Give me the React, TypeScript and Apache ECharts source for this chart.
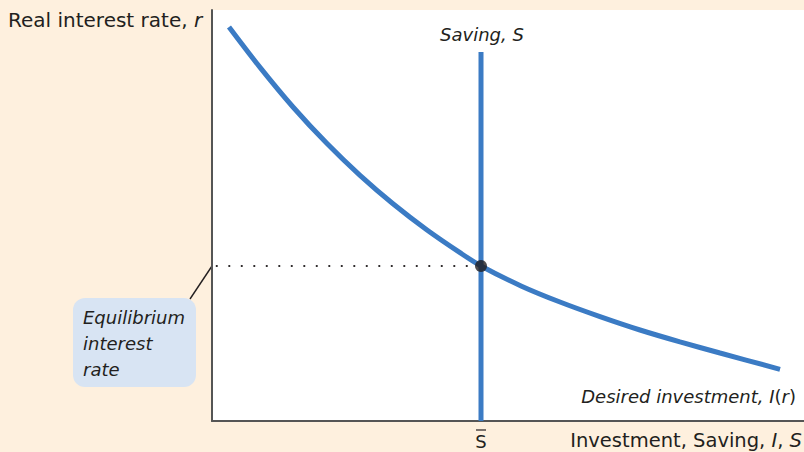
import React, { useEffect, useRef } from "react";
import * as echarts from "echarts";

// Desired investment curve I(r): [investment/saving, real interest rate]
const investX = [2.87, 8.11, 13.68, 19.43, 25.0, 30.57, 36.32, 41.89, 45.44, 52.2, 58.78, 65.54, 72.3, 79.05, 85.81, 95.95];
const investY = [95.86, 86.03, 76.4, 67.49, 59.76, 52.85, 46.47, 40.95, 37.71, 32.87, 28.95, 25.4, 22.14, 19.25, 16.55, 12.58];
// Saving (vertical) line
const savingX = [45.44, 45.44];
const savingY = [0, 89.8];
// Equilibrium point
const eqX = 45.44;
const eqY = 37.71;
// Dotted guide
const guideX = [0.8, 44.2];

const FONT = "'DejaVu Sans', sans-serif";
const INK = "#231f20";
const BLUE = "#3b7bc4";
const BEIGE = "#fef0de";

export default function App() {
  const ref = useRef<HTMLDivElement>(null);
  useEffect(() => {
    if (!ref.current) return;
    const chart = echarts.init(ref.current, null, { renderer: "svg" });
    const curve = investX.map((x, i) => [x, investY[i]]);
    const saving = savingX.map((x, i) => [x, savingY[i]]);
    const guide = guideX.map((x) => [x, eqY]);
    const it = (size: number) => ({ fontStyle: "italic", fontSize: size, fontFamily: FONT, fill: INK });
    chart.setOption({
      animation: false,
      backgroundColor: BEIGE,
      grid: {
        left: 212,
        right: 0,
        top: 10,
        bottom: 31,
        show: true,
        backgroundColor: "#ffffff",
        borderWidth: 0,
      },
      xAxis: {
        type: "value",
        min: 0,
        max: 100,
        axisLine: { show: true, lineStyle: { color: "#555555", width: 2 } },
        axisTick: { show: false },
        axisLabel: { show: false },
        splitLine: { show: false },
      },
      yAxis: {
        type: "value",
        min: 0,
        max: 100,
        axisLine: { show: true, lineStyle: { color: "#555555", width: 2 } },
        axisTick: { show: false },
        axisLabel: { show: false },
        splitLine: { show: false },
      },
      series: [
        {
          type: "line",
          data: guide,
          showSymbol: false,
          lineStyle: { color: INK, width: 2.2, type: [0.1, 12.4], cap: "round" },
          z: 1,
        },
        {
          type: "line",
          data: saving,
          showSymbol: false,
          lineStyle: { color: BLUE, width: 5 },
          z: 2,
        },
        {
          type: "line",
          data: curve,
          smooth: 0.3,
          showSymbol: false,
          lineStyle: { color: BLUE, width: 5 },
          z: 3,
        },
        {
          type: "scatter",
          data: [[eqX, eqY]],
          symbolSize: 12,
          itemStyle: { color: INK },
          z: 4,
        },
      ],
      graphic: [
        {
          type: "text",
          x: 8,
          y: 20,
          style: {
            text: "Real interest rate, {i|r}",
            font: `20px ${FONT}`,
            fill: INK,
            verticalAlign: "middle",
            rich: { i: it(20) },
          },
        },
        {
          type: "text",
          x: 482,
          y: 34,
          style: {
            text: "Saving, S",
            font: `italic 18px ${FONT}`,
            fill: INK,
            align: "center",
            verticalAlign: "middle",
          },
        },
        {
          type: "text",
          x: 796,
          y: 396,
          style: {
            text: "{i|Desired investment, I}({i|r})",
            font: `18px ${FONT}`,
            fill: INK,
            align: "right",
            verticalAlign: "middle",
            rich: { i: it(18) },
          },
        },
        {
          type: "text",
          x: 802,
          y: 440,
          style: {
            text: "Investment, Saving, {i|I}, {i|S}",
            font: `19.5px ${FONT}`,
            fill: INK,
            align: "right",
            verticalAlign: "middle",
            rich: { i: it(19.5) },
          },
        },
        {
          type: "text",
          x: 481,
          y: 441,
          style: {
            text: "S",
            font: `18px ${FONT}`,
            fill: INK,
            align: "center",
            verticalAlign: "middle",
          },
        },
        {
          type: "line",
          shape: { x1: 476, y1: 430, x2: 486, y2: 430 },
          style: { stroke: INK, lineWidth: 1.2 },
        },
        {
          type: "line",
          shape: { x1: 190, y1: 299, x2: 212, y2: 266 },
          style: { stroke: INK, lineWidth: 1.4 },
        },
        {
          type: "rect",
          shape: { x: 73, y: 298, width: 123, height: 89, r: 12 },
          style: { fill: "#d8e4f3" },
        },
        {
          type: "text",
          x: 83,
          y: 343,
          style: {
            text: "Equilibrium\ninterest\nrate",
            font: `italic 18px ${FONT}`,
            fill: INK,
            lineHeight: 26,
            verticalAlign: "middle",
          },
        },
      ],
    });
    return () => chart.dispose();
  }, []);
  return (
    <div
      ref={ref}
      style={{ position: "fixed", left: 0, top: 0, width: 804, height: 452 }}
    />
  );
}
